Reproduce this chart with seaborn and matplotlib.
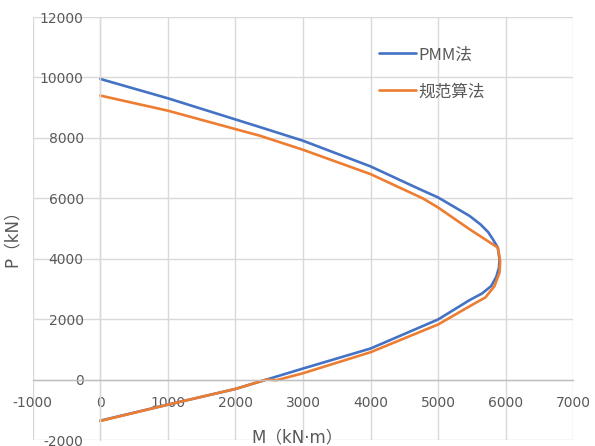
import matplotlib
matplotlib.use("Agg")
import matplotlib.pyplot as plt
import seaborn as sns
import pandas as pd

# PMM method interaction curve (M in kN·m, P in kN), traced from tension to compression
pmm_m = [0, 1000, 2000, 2460, 3000, 4000, 5000, 5465, 5650, 5785, 5860, 5900,
         5908, 5883, 5810, 5740, 5630, 5465, 5000, 4726, 4000, 3000, 2400, 2000, 1000, 0]
pmm_p = [-1360, -830, -310, 0, 365, 1028, 1990, 2630, 2850, 3095, 3400, 3700,
         3980, 4368, 4644, 4880, 5130, 5417, 6027, 6302, 7055, 7905, 8330, 8610, 9310, 9950]

# Code-method interaction curve
code_m = [0, 1000, 2000, 2460, 2610, 3000, 4000, 5000, 5514, 5700, 5834, 5908,
          5918, 5883, 5465, 5000, 4776, 4000, 3000, 2363, 2000, 1000, 0]
code_p = [-1370, -830, -310, 0, -20, 210, 906, 1824, 2488, 2720, 3095, 3540,
          3924, 4368, 4976, 5694, 5994, 6800, 7606, 8070, 8290, 8900, 9400]

series_names = ["PMM法", "规范算法"]
x_ticks = [-1000, 0, 1000, 2000, 3000, 4000, 5000, 6000, 7000]
y_ticks = [-2000, 0, 2000, 4000, 6000, 8000, 10000, 12000]

df = pd.concat([
    pd.DataFrame({"M": pmm_m, "P": pmm_p, "方法": series_names[0]}),
    pd.DataFrame({"M": code_m, "P": code_p, "方法": series_names[1]}),
], ignore_index=True)

sns.set_style("white")
plt.rcParams["font.family"] = ["DejaVu Sans", "Noto Sans CJK SC"]

fig = plt.figure(figsize=(5.95, 4.46), dpi=100)
ax = fig.add_axes([0.0550, 0.01345, 0.9085, 0.9484])

sns.lineplot(data=df, x="M", y="P", hue="方法", sort=False, estimator=None,
             palette=["#4472C4", "#ED7D31"], linewidth=1.9, ax=ax, legend=True)

ax.set_xlim(-1000, 7000)
ax.set_ylim(-2000, 12000)
ax.set_xticks(x_ticks)
ax.set_yticks(y_ticks)
ax.set_xticklabels([str(v) for v in x_ticks])
ax.set_yticklabels([str(v) for v in y_ticks])
ax.grid(True, color="#D9D9D9", linewidth=1.0)
ax.set_axisbelow(True)

for side in ["top", "right"]:
    ax.spines[side].set_visible(False)
ax.spines["bottom"].set_position(("data", 0))
ax.spines["bottom"].set_color("#BFBFBF")
ax.spines["bottom"].set_linewidth(1.0)
ax.spines["left"].set_position(("data", 0))
ax.spines["left"].set_color("#D9D9D9")
ax.spines["left"].set_linewidth(1.0)

ax.tick_params(axis="both", length=0, labelsize=10, labelcolor="#595959")
ax.tick_params(axis="x", pad=12)
ax.tick_params(axis="y", pad=12)

ax.set_xlabel("")
ax.set_ylabel("")
label_font = ["DejaVu Sans", "Noto Sans CJK SC"]
fig.text(297 / 595, 1 - 437 / 446, "M（kN·m）", ha="center", va="center",
         fontsize=12, color="#595959", family=label_font)
fig.text(12 / 595, 1 - 234 / 446, "P（kN）", ha="center", va="center", rotation=90,
         fontsize=12, color="#595959", family=label_font)

handles, labels = ax.get_legend_handles_labels()
leg = ax.legend(handles, labels, loc="upper left",
                bbox_to_anchor=(371 / 595, 1 - 38 / 446), bbox_transform=fig.transFigure,
                frameon=False, handlelength=2.2, handletextpad=0.12, labelspacing=1.2,
                borderpad=0, prop={"family": ["Noto Sans CJK SC", "DejaVu Sans"], "size": 12})
for t in leg.get_texts():
    t.set_color("#595959")

fig.savefig("out.png", dpi=100)
